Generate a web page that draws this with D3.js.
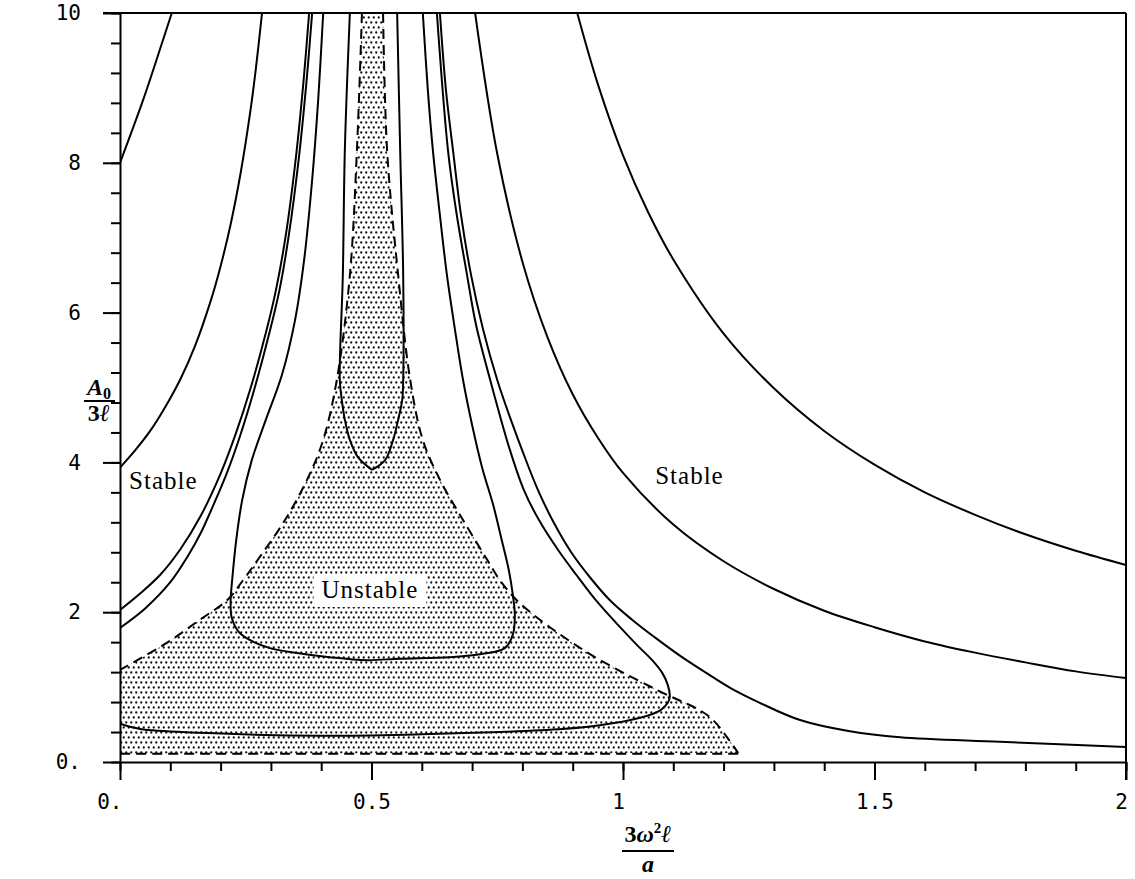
<!DOCTYPE html>
<html>
<head>
<meta charset="utf-8">
<script src="https://cdn.jsdelivr.net/npm/d3@7"></script>
<style>
  html, body { margin: 0; padding: 0; background: #fff; }
  svg { display: block; }
</style>
</head>
<body>
<div id="chart"></div>
<script>
// ---- axis ticks -------------------------------------------------------
const xMajorTicks = [0, 0.5, 1, 1.5, 2];
const xTickLabels = ["0.", "0.5", "1", "1.5", "2"];
const yMajorTicks = [0, 2, 4, 6, 8, 10];
const yTickLabels = ["0.", "2", "4", "6", "8", "10"];

// ---- contour curves  [3ω²ℓ/a, A0/3ℓ] -----------------------------------
const curveTopLeft = [[0, 8.0], [0.046, 8.84], [0.085, 9.63], [0.103, 10]];
const curveFromFour = [[0, 3.93], [0.03, 4.16], [0.06, 4.42], [0.09, 4.74], [0.12, 5.11], [0.15, 5.57], [0.18, 6.15],
  [0.20, 6.62], [0.22, 7.18], [0.24, 7.87], [0.26, 8.73], [0.27, 9.25], [0.2824, 10]];
const curveFromTwo = [[0, 2.03], [0.04, 2.25], [0.08, 2.50], [0.12, 2.84], [0.16, 3.28], [0.20, 3.85], [0.23, 4.38],
  [0.26, 5.00], [0.29, 5.73], [0.31, 6.30], [0.33, 7.05], [0.35, 8.09], [0.365, 9.10], [0.376, 10]];
const curveFromOneEight = [[0, 1.79], [0.05, 2.05], [0.10, 2.40], [0.135, 2.75], [0.160, 3.05], [0.185, 3.42], [0.212, 3.85],
  [0.240, 4.38], [0.268, 5.00], [0.297, 5.73], [0.317, 6.30], [0.336, 7.05], [0.356, 8.09], [0.371, 9.10], [0.382, 10]];
const curveU = [[0.404, 10], [0.394, 8.84], [0.382, 7.77], [0.366, 6.70], [0.348, 5.90], [0.322, 5.17], [0.290, 4.57],
  [0.262, 4.03], [0.243, 3.50], [0.231, 2.96], [0.223, 2.43], [0.220, 2.16], [0.222, 1.93], [0.237, 1.73], [0.258, 1.63],
  [0.298, 1.52], [0.338, 1.47], [0.417, 1.40], [0.491, 1.36], [0.557, 1.38], [0.656, 1.40], [0.716, 1.44], [0.765, 1.52],
  [0.781, 1.70], [0.785, 1.96], [0.781, 2.23], [0.773, 2.56], [0.759, 2.96], [0.742, 3.43], [0.720, 3.93], [0.700, 4.50],
  [0.682, 5.10], [0.666, 5.77], [0.650, 6.50], [0.636, 7.30], [0.622, 8.17], [0.612, 8.97], [0.602, 10]];
const cuspLeft = [[0.457, 10], [0.447, 8.17], [0.443, 6.50], [0.437, 5.10], [0.441, 4.83], [0.447, 4.57], [0.457, 4.30], [0.473, 4.07], [0.501, 3.90]];
const cuspRight = [[0.501, 3.90], [0.527, 4.03], [0.543, 4.30], [0.553, 4.57], [0.561, 4.83], [0.563, 5.10], [0.563, 6.50], [0.557, 8.17], [0.551, 10]];
const curveOuter = [[0, 0.51], [0.04, 0.44], [0.16, 0.39], [0.40, 0.35], [0.60, 0.37], [0.755, 0.40], [0.88, 0.44], [0.954, 0.49],
  [1.034, 0.59], [1.074, 0.69], [1.089, 0.79], [1.093, 0.87], [1.089, 1.03], [1.078, 1.19], [1.058, 1.36], [1.028, 1.56],
  [0.990, 1.83], [0.946, 2.16], [0.907, 2.50], [0.871, 2.83], [0.833, 3.23], [0.803, 3.63], [0.775, 4.17], [0.736, 5.10],
  [0.708, 5.83], [0.690, 6.50], [0.668, 7.37], [0.652, 8.17], [0.630, 10]];
const curveToLow = [[0.636, 10], [0.648, 8.97], [0.662, 8.17], [0.678, 7.30], [0.698, 6.50], [0.722, 5.77], [0.750, 5.10],
  [0.777, 4.57], [0.803, 4.10], [0.831, 3.63], [0.862, 3.20], [0.897, 2.80], [0.935, 2.46], [0.974, 2.16], [1.018, 1.90],
  [1.064, 1.66], [1.113, 1.42], [1.163, 1.20], [1.213, 0.99], [1.272, 0.79], [1.352, 0.56], [1.451, 0.41], [1.551, 0.33],
  [1.749, 0.27], [2, 0.20]];
const curveToMid = [[0.706, 10], [0.75, 8.12], [0.80, 6.68], [0.85, 5.67], [0.90, 4.91], [0.95, 4.33], [1.0, 3.86],
  [1.1, 3.17], [1.2, 2.68], [1.3, 2.31], [1.4, 2.02], [1.5, 1.80], [1.6, 1.61], [1.7, 1.46], [1.8, 1.33], [1.9, 1.21], [2, 1.12]];
const curveToHigh = [[0.909, 10], [0.95, 9.05], [1.0, 8.10], [1.05, 7.34], [1.1, 6.71], [1.2, 5.72], [1.3, 4.99], [1.4, 4.42],
  [1.5, 3.97], [1.6, 3.60], [1.7, 3.30], [1.8, 3.04], [1.9, 2.82], [2, 2.63]];

// ---- boundary of the unstable (shaded) region --------------------------
const boundaryLeft = [[0.481, 10], [0.471, 8.17], [0.457, 6.50], [0.431, 5.10], [0.404, 4.30], [0.372, 3.77], [0.328, 3.23],
  [0.274, 2.70], [0.245, 2.43], [0.213, 2.16], [0.159, 1.90], [0.093, 1.59], [0, 1.23]];
const boundaryRight = [[0.523, 10], [0.531, 8.17], [0.553, 6.50], [0.577, 5.10], [0.602, 4.30], [0.636, 3.77], [0.682, 3.23],
  [0.730, 2.70], [0.755, 2.43], [0.795, 2.12], [0.920, 1.50], [1.068, 0.96], [1.153, 0.69], [1.179, 0.56], [1.207, 0.33], [1.229, 0.12]];
const boundaryFloor = 0.11;

const solidCurves = [curveTopLeft, curveFromFour, curveFromTwo, curveFromOneEight, curveU,
  cuspLeft, cuspRight, curveOuter, curveToLow, curveToMid, curveToHigh];

// ---- region labels ----------------------------------------------------
const regionLabels = [
  { text: "Stable", x: 0.018, y: 3.645, boxed: false },
  { text: "Stable", x: 1.064, y: 3.71, boxed: false },
  { text: "Unstable", x: 0.497, y: 2.19, boxed: true }
];

// ---- drawing -----------------------------------------------------------
const W = 1135, H = 879;
const plotLeft = 120, plotRight = 1126, plotTop = 13, plotBottom = 762;

const svg = d3.select("#chart").append("svg").attr("width", W).attr("height", H);

const x = d3.scaleLinear().domain([0, 2]).range([plotLeft, plotRight]);
const y = d3.scaleLinear().domain([0, 10]).range([plotBottom, plotTop]);

const defs = svg.append("defs");
defs.append("clipPath").attr("id", "plot-clip")
  .append("rect").attr("x", plotLeft).attr("y", plotTop)
  .attr("width", plotRight - plotLeft).attr("height", plotBottom - plotTop);

const dots = defs.append("pattern").attr("id", "stipple")
  .attr("patternUnits", "userSpaceOnUse").attr("width", 5).attr("height", 10);
dots.append("circle").attr("cx", 1.25).attr("cy", 2.5).attr("r", 1.15).attr("fill", "#111");
dots.append("circle").attr("cx", 3.75).attr("cy", 7.5).attr("r", 1.15).attr("fill", "#111");

const line = d3.line().x(d => x(d[0])).y(d => y(d[1])).curve(d3.curveCatmullRom.alpha(0.5));

const plot = svg.append("g").attr("clip-path", "url(#plot-clip)");

// shaded region: left boundary upward, right boundary downward, floor back
const shadePath = line(boundaryLeft.slice().reverse()) +
  line(boundaryRight).replace(/^M/, "L") +
  "L" + x(0) + "," + y(boundaryFloor) + "Z";
plot.append("path").attr("d", shadePath).attr("fill", "url(#stipple)").attr("stroke", "none");

// dashed boundaries
const dashStyle = sel => sel.attr("fill", "none").attr("stroke", "#000")
  .attr("stroke-width", 2).attr("stroke-dasharray", "10,6");
plot.append("path").attr("d", line(boundaryLeft)).call(dashStyle);
plot.append("path").attr("d", line(boundaryRight)).call(dashStyle);
plot.append("path")
  .attr("d", d3.line().x(d => x(d[0])).y(d => y(d[1]))([[boundaryRight[boundaryRight.length - 1][0], boundaryFloor], [0, boundaryFloor]]))
  .call(dashStyle);

// solid contours
plot.selectAll("path.contour").data(solidCurves).join("path")
  .attr("class", "contour")
  .attr("d", line)
  .attr("fill", "none").attr("stroke", "#000").attr("stroke-width", 2)
  .attr("stroke-linejoin", "round");

// region labels
regionLabels.forEach(l => {
  const g = svg.append("g");
  const t = g.append("text")
    .attr("x", x(l.x)).attr("y", y(l.y))
    .attr("text-anchor", l.boxed ? "middle" : "start")
    .attr("font-family", "'Liberation Serif', 'DejaVu Serif', serif")
    .attr("font-size", 25).attr("letter-spacing", 1)
    .text(l.text);
  if (l.boxed) {
    const bb = t.node().getBBox();
    g.insert("rect", "text")
      .attr("x", bb.x - 8).attr("y", bb.y - 2)
      .attr("width", bb.width + 16).attr("height", bb.height + 6)
      .attr("fill", "#fff");
  }
});

// frame: top and right edges
svg.append("line").attr("x1", plotLeft - 17).attr("x2", plotRight).attr("y1", plotTop).attr("y2", plotTop)
  .attr("stroke", "#000").attr("stroke-width", 2);
svg.append("line").attr("x1", plotRight).attr("x2", plotRight).attr("y1", plotTop).attr("y2", plotBottom + 18)
  .attr("stroke", "#000").attr("stroke-width", 2);

// axes
const tickFont = "'DejaVu Sans Mono', monospace";

const xMinor = svg.append("g").attr("transform", `translate(0,${plotBottom})`)
  .call(d3.axisBottom(x).tickValues(d3.range(0, 2.0001, 0.1)).tickSize(9).tickFormat(""));
xMinor.select(".domain").remove();

const xAxis = svg.append("g").attr("transform", `translate(0,${plotBottom})`)
  .call(d3.axisBottom(x).tickValues(xMajorTicks).tickSize(18).tickSizeOuter(0).tickPadding(14)
    .tickFormat((d, i) => xTickLabels[i]));
xAxis.selectAll("text")
  .attr("text-anchor", d => d === 0 ? "end" : "middle")
  .attr("dx", d => d === 0 ? 2 : (Number.isInteger(d) ? -5 : 0));

const yMinor = svg.append("g").attr("transform", `translate(${plotLeft},0)`)
  .call(d3.axisLeft(y).tickValues(d3.range(0, 10.0001, 0.4)).tickSize(9).tickFormat(""));
yMinor.select(".domain").remove();

const yAxis = svg.append("g").attr("transform", `translate(${plotLeft},0)`)
  .call(d3.axisLeft(y).tickValues(yMajorTicks).tickSize(17).tickSizeOuter(0).tickPadding(22)
    .tickFormat((d, i) => yTickLabels[i]));

svg.selectAll(".tick line, .domain").attr("stroke", "#000").attr("stroke-width", 2);
svg.selectAll(".tick text").attr("font-family", tickFont).attr("font-size", 21).attr("fill", "#000");

// axis titles (fractions)
const serif = "'Liberation Serif', 'DejaVu Serif', serif";
const yt = svg.append("g").attr("font-family", serif).attr("font-weight", "bold").attr("fill", "#000");
const yNum = yt.append("text").attr("x", 99).attr("y", 395).attr("text-anchor", "middle").attr("font-size", 24);
yNum.append("tspan").attr("font-style", "italic").text("A");
yNum.append("tspan").attr("font-size", 16).attr("dy", 4).text("0");
yt.append("line").attr("x1", 84).attr("x2", 115).attr("y1", 401).attr("y2", 401)
  .attr("stroke", "#000").attr("stroke-width", 2);
const yDen = yt.append("text").attr("x", 99).attr("y", 421).attr("text-anchor", "middle").attr("font-size", 24);
yDen.append("tspan").text("3");
yDen.append("tspan").attr("font-style", "italic").text("ℓ");

const xt = svg.append("g").attr("font-family", serif).attr("font-weight", "bold").attr("fill", "#000");
const xNum = xt.append("text").attr("x", 648).attr("y", 842).attr("text-anchor", "middle").attr("font-size", 24);
xNum.append("tspan").text("3");
xNum.append("tspan").attr("font-style", "italic").text("ω");
xNum.append("tspan").attr("font-size", 15).attr("dy", -9).text("2");
xNum.append("tspan").attr("font-style", "italic").attr("dy", 9).text("ℓ");
xt.append("line").attr("x1", 622).attr("x2", 674).attr("y1", 851).attr("y2", 851)
  .attr("stroke", "#000").attr("stroke-width", 2);
xt.append("text").attr("x", 648).attr("y", 872).attr("text-anchor", "middle").attr("font-size", 24)
  .attr("font-style", "italic").text("a");
</script>
</body>
</html>
